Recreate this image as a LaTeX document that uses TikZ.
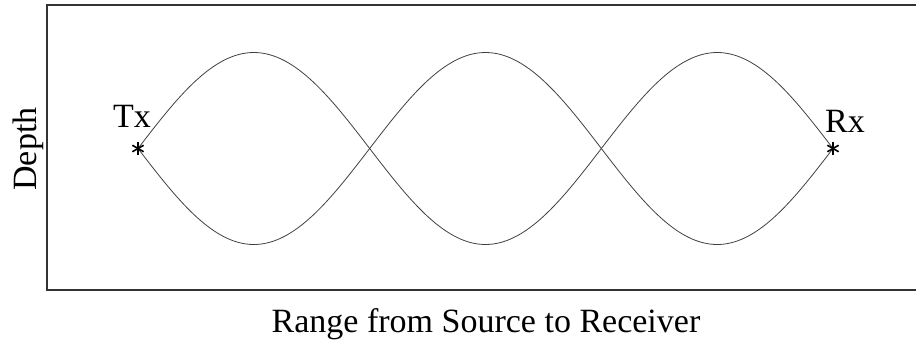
\documentclass[tikz,border=0pt]{standalone}
\usepackage{fontspec}
\setmainfont{Liberation Serif}
\usepackage{tikz}
\usepackage{xcolor}

\begin{document}
\begin{tikzpicture}[x=1pt, y=-1pt,
        frame/.style={line width=1.2pt, black!80},
        ray/.style={line width=0.8pt, black!75},
        lbl/.style={font=\fontsize{34}{40}\selectfont, inner sep=0pt}]
        \useasboundingbox (0,0) rectangle (916,341);

        % Frame (no right side)
        \draw[frame] (916,5) -- (47,5) -- (47,290) -- (916,290);

        % Source and receiver
        \coordinate (tx) at (138,148.5);
        \coordinate (rx) at (833,148.5);

        % Rays, three half periods from Tx to Rx
        \draw[ray] plot[variable=\t, domain=0:3, samples=200, smooth]
            ({138 + 231.67*\t}, {148.5 - 96*sin(180*\t)});
        \draw[ray] plot[variable=\t, domain=0:3, samples=200, smooth]
            ({138 + 231.67*\t}, {148.5 + 96*sin(180*\t)});

        % Stars
        \foreach \p in {tx, rx}
            \foreach \a in {30, 90, 150}
                \draw[line width=1.6pt] ([shift={(\a:6.5)}]\p) -- ([shift={(\a+180:6.5)}]\p);

        % Labels
        \node[lbl, anchor=base] (txlbl) at (132,127) {Tx};
        \node[lbl, anchor=base] (rxlbl) at (845,132) {Rx};
        \node[lbl, anchor=base, rotate=90] (depth) at (36,149) {Depth};
        \node[lbl, anchor=base] (range) at (486,332) {Range from Source to Receiver};

    \end{tikzpicture}
\end{document}
